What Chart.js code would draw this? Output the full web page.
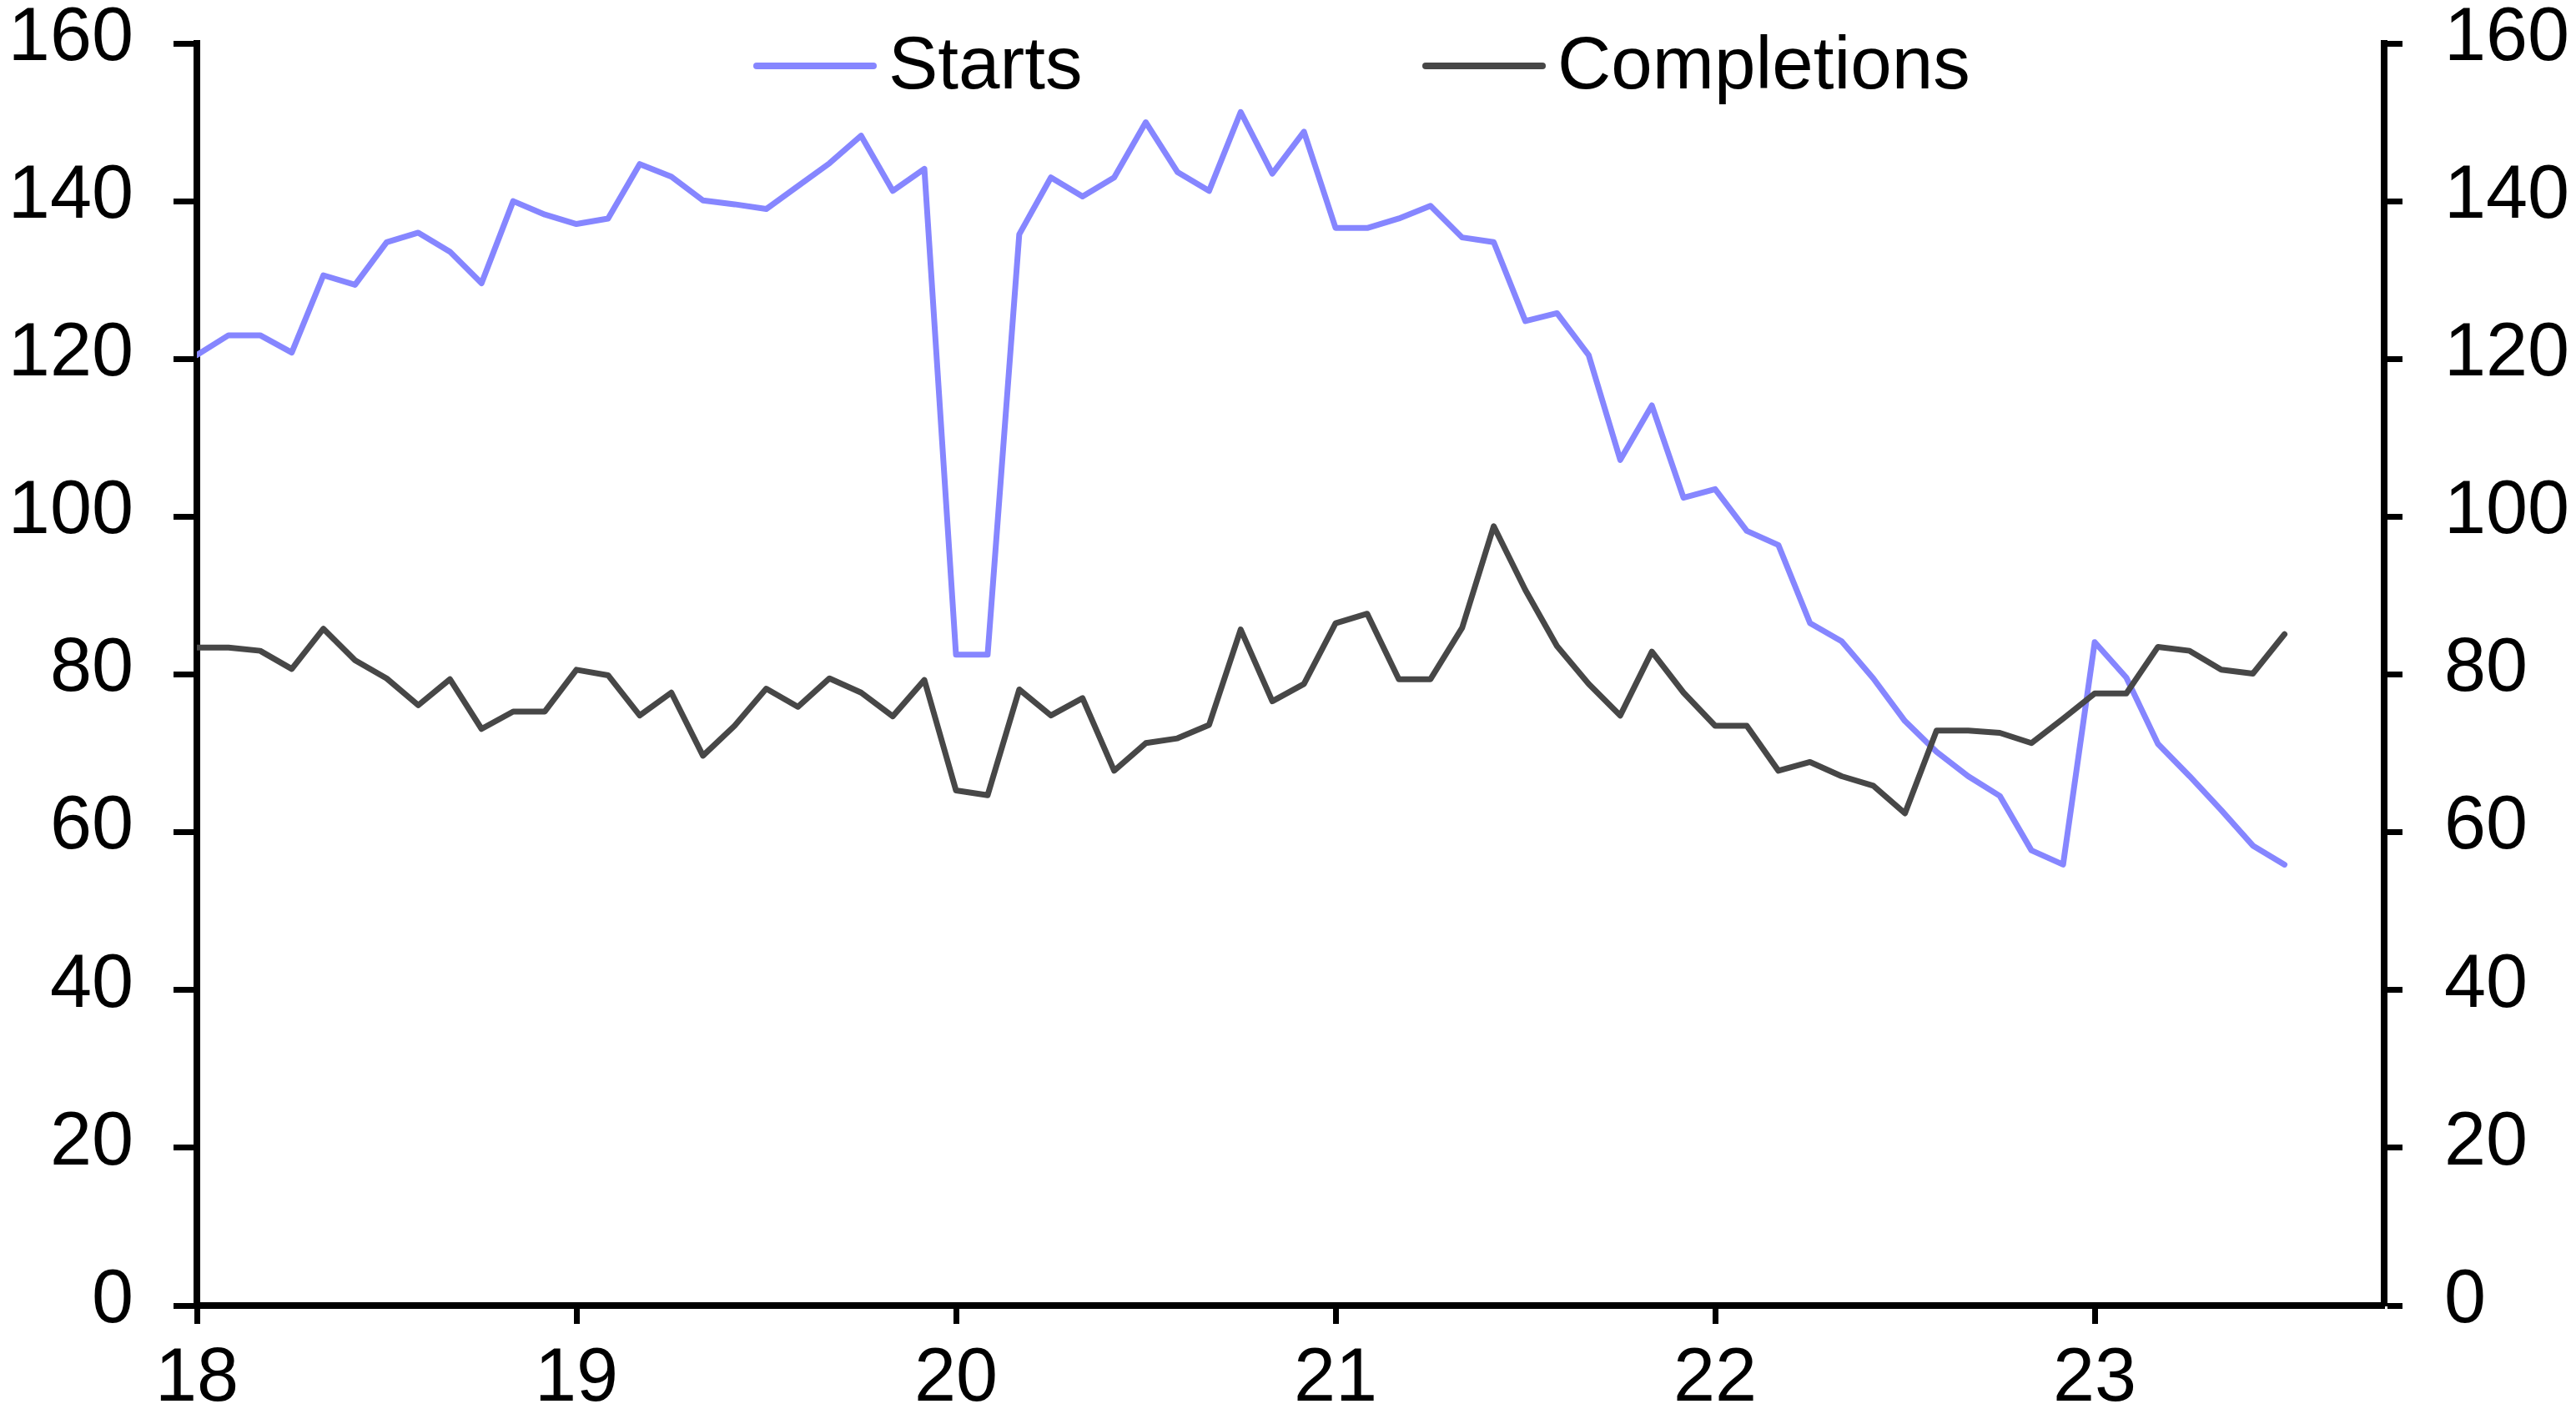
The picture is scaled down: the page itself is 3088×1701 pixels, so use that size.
<!DOCTYPE html>
<html>
<head>
<meta charset="utf-8">
<title>Housing starts and completions</title>
<script src="https://cdn.jsdelivr.net/npm/chart.js@4"></script>
<style>
  html, body { margin: 0; padding: 0; background: #ffffff; }
  canvas { display: block; }
</style>
</head>
<body>
<canvas id="chart" width="3088" height="1701"></canvas>
<script>
// Monthly observations, Jan 2018 - Jul 2023
const months = [
  '2018-01','2018-02','2018-03','2018-04','2018-05','2018-06','2018-07','2018-08','2018-09','2018-10','2018-11','2018-12',
  '2019-01','2019-02','2019-03','2019-04','2019-05','2019-06','2019-07','2019-08','2019-09','2019-10','2019-11','2019-12',
  '2020-01','2020-02','2020-03','2020-04','2020-05','2020-06','2020-07','2020-08','2020-09','2020-10','2020-11','2020-12',
  '2021-01','2021-02','2021-03','2021-04','2021-05','2021-06','2021-07','2021-08','2021-09','2021-10','2021-11','2021-12',
  '2022-01','2022-02','2022-03','2022-04','2022-05','2022-06','2022-07','2022-08','2022-09','2022-10','2022-11','2022-12',
  '2023-01','2023-02','2023-03','2023-04','2023-05','2023-06','2023-07'
];

const starts = [
  120.5, 123.0, 123.0, 120.8, 130.6, 129.4, 134.8, 136.0, 133.6, 129.6, 140.0, 138.3,
  137.1, 137.8, 144.7, 143.1, 140.1, 139.6, 139.0, 141.9, 144.8, 148.3, 141.3, 144.1,
  82.5, 82.5, 135.8, 143.0, 140.6, 143.0, 150.0, 143.7, 141.3, 151.3, 143.5, 148.8,
  136.6, 136.6, 137.8, 139.4, 135.4, 134.8, 124.8, 125.8, 120.5, 107.2, 114.1, 102.4,
  103.5, 98.2, 96.4, 86.5, 84.2, 79.5, 74.1, 70.2, 67.1, 64.6, 57.7, 55.9,
  84.1, 79.6, 71.2, 67.1, 62.8, 58.3, 55.9
];

const completions = [
  83.4, 83.4, 83.0, 80.7, 85.8, 81.8, 79.5, 76.1, 79.4, 73.1, 75.3, 75.3,
  80.6, 79.9, 74.8, 77.7, 69.7, 73.5, 78.2, 75.9, 79.5, 77.7, 74.7, 79.3,
  65.3, 64.7, 78.1, 74.8, 77.0, 67.8, 71.3, 71.9, 73.6, 85.7, 76.6, 78.8,
  86.5, 87.7, 79.4, 79.4, 85.9, 98.8, 90.7, 83.6, 78.8, 74.8, 82.9, 77.7,
  73.5, 73.5, 67.8, 68.9, 67.1, 65.9, 62.4, 72.9, 72.9, 72.6, 71.3, 74.4,
  77.6, 77.6, 83.5, 83.0, 80.6, 80.1, 85.1
];

const yearLabels = ['18', '19', '20', '21', '22', '23'];
const seriesNames = ['Starts', 'Completions'];
const seriesColors = ['#8686FF', '#474747'];

const FONT = "'Liberation Sans', Arial, Helvetica, sans-serif";
const CANVAS_W = 3088, CANVAS_H = 1701;

// Months elapsed since the first observation's January
function monthIndex(label) {
  const [y, m] = label.split('-').map(Number);
  return (y - 2018) * 12 + (m - 1);
}
function toPoints(values) {
  return values.map((v, i) => ({ x: monthIndex(months[i]), y: v }));
}
const yearTickValues = yearLabels.map(y => monthIndex('20' + y + '-01'));

// Legend drawn inside the top of the plot area
const insideLegend = {
  id: 'insideLegend',
  afterDraw(chart, args, opts) {
    const ctx = chart.ctx;
    ctx.save();
    chart.data.datasets.forEach((ds, i) => {
      const x = opts.starts[i];
      ctx.strokeStyle = ds.borderColor;
      ctx.lineWidth = opts.lineWidth;
      ctx.lineCap = 'round';
      ctx.beginPath();
      ctx.moveTo(x, opts.lineY);
      ctx.lineTo(x + opts.lineLength, opts.lineY);
      ctx.stroke();
      ctx.fillStyle = '#000000';
      ctx.font = opts.fontSize + 'px ' + FONT;
      ctx.textAlign = 'left';
      ctx.textBaseline = 'alphabetic';
      ctx.fillText(ds.label, x + opts.lineLength + opts.gap, opts.baseline);
    });
    ctx.restore();
  }
};

const tickFont = { family: FONT, size: 90, lineHeight: 1 };

// Axis labels may overhang the plot edges; keep the plot area fixed
function noEdgePadding(scale) {
  scale.paddingTop = 0;
  scale.paddingBottom = 0;
  scale.paddingLeft = 0;
  scale.paddingRight = 0;
}

function yAxis(position, tickLength, padding, width) {
  return {
    type: 'linear',
    position: position,
    min: 0,
    max: 160,
    ticks: { stepSize: 20, color: '#000000', font: tickFont, padding: padding, labelOffset: -5 },
    grid: { display: true, drawOnChartArea: false, drawTicks: true, tickLength: tickLength, tickWidth: 7, tickColor: '#000000' },
    border: { display: true, width: 8, color: '#000000' },
    afterFit(scale) { scale.width = width; noEdgePadding(scale); }
  };
}

new Chart(document.getElementById('chart'), {
  type: 'line',
  data: {
    datasets: [
      {
        label: seriesNames[0],
        data: toPoints(starts),
        borderColor: seriesColors[0],
        backgroundColor: seriesColors[0],
        borderWidth: 7,
        pointRadius: 0,
        tension: 0,
        borderJoinStyle: 'round',
        borderCapStyle: 'round',
        yAxisID: 'y',
        order: 1
      },
      {
        label: seriesNames[1],
        data: toPoints(completions),
        borderColor: seriesColors[1],
        backgroundColor: seriesColors[1],
        borderWidth: 7,
        pointRadius: 0,
        tension: 0,
        borderJoinStyle: 'round',
        borderCapStyle: 'round',
        yAxisID: 'y',
        order: 0
      }
    ]
  },
  options: {
    responsive: false,
    devicePixelRatio: 1,
    animation: false,
    events: [],
    layout: { padding: { top: 52, left: 0, right: 0, bottom: 0 } },
    plugins: {
      legend: { display: false },
      tooltip: { enabled: false },
      insideLegend: {
        starts: [907, 1709],
        lineY: 79,
        lineLength: 140,
        lineWidth: 8,
        gap: 18,
        baseline: 106,
        fontSize: 89
      }
    },
    scales: {
      x: {
        type: 'linear',
        min: 0,
        max: 69.15,
        afterBuildTicks(scale) {
          scale.ticks = yearTickValues.map(v => ({ value: v }));
        },
        ticks: {
          color: '#000000',
          font: tickFont,
          padding: 22,
          maxRotation: 0,
          autoSkip: false,
          callback: (value, index) => yearLabels[index]
        },
        grid: { display: true, drawOnChartArea: false, drawTicks: true, tickLength: 22, tickWidth: 7, tickColor: '#000000' },
        border: { display: true, width: 8, color: '#000000' },
        afterFit(scale) { scale.height = CANVAS_H - 1565; noEdgePadding(scale); }
      },
      y: yAxis('left', 28, 48, 236),
      y2: yAxis('right', 22, 50, CANVAS_W - 2858)
    }
  },
  plugins: [insideLegend]
});
</script>
</body>
</html>
